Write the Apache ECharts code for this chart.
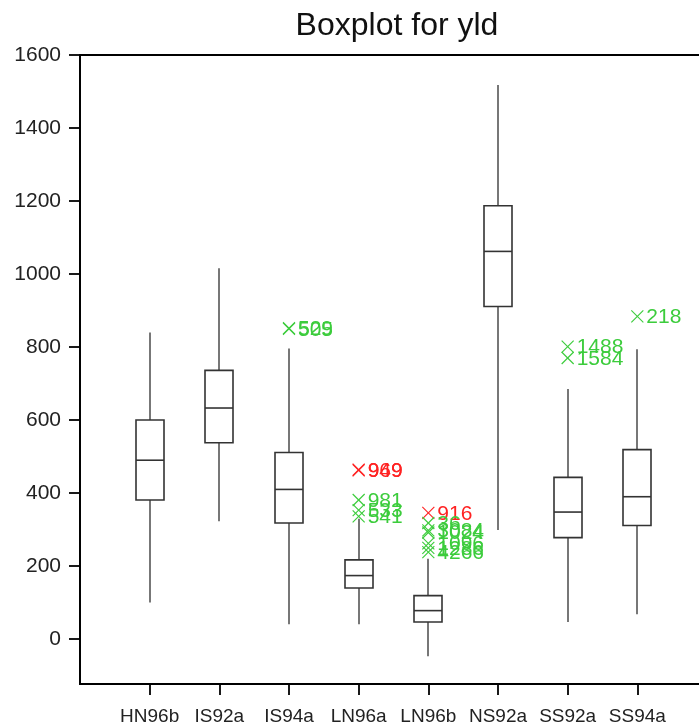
<!DOCTYPE html>
<html>
<head>
<meta charset="utf-8">
<script src="https://cdn.jsdelivr.net/npm/echarts@6/dist/echarts.min.js"></script>
<style>html,body{margin:0;padding:0;background:#fff;}#c{width:699px;height:727px;}</style>
</head>
<body>
<div id="c"></div>
<script>
var categories = ['HN96b','IS92a','IS94a','LN96a','LN96b','NS92a','SS92a','SS94a'];
var whiskerLow = [100, 323, 41, 41, -47, 299, 47, 68];
var q1 =        [381, 538, 318, 140, 47, 911, 278, 311];
var median =    [490, 633, 410, 174, 78, 1062, 348, 390];
var q3 =        [600, 736, 511, 217, 119, 1187, 443, 519];
var whiskerHigh=[840, 1016, 796, 330, 220, 1518, 685, 794];

var outlierCat = ['IS94a','IS94a','LN96a','LN96a','LN96a','LN96a','LN96a','LN96b','LN96b','LN96b','LN96b','LN96b','LN96b','LN96b','SS92a','SS92a','SS94a'];
var outlierVal = [852, 850, 464, 462, 381, 353, 336, 346, 318, 298, 292, 262, 250, 238, 801, 770, 884];
var outlierLab = ['529','505','969','949','981','533','541','916','36','3084','1024','1096','1286','4266','1488','1584','218'];
var outlierKind= ['g','g','r','r','g','g','g','r','g','g','g','g','g','g','g','g','g'];

var yTicks = [0,200,400,600,800,1000,1200,1400,1600];

var axisCats = [''].concat(categories).concat(['']);

var boxData = categories.map(function(c,i){
  return [i+1, whiskerLow[i], q1[i], median[i], q3[i], whiskerHigh[i]];
});
var outData = outlierCat.map(function(c,i){
  return [categories.indexOf(c)+1, outlierVal[i], outlierLab[i], outlierKind[i]];
});

var chart = echarts.init(document.getElementById('c'), null, {renderer:'canvas'});
var FONT = '"Liberation Sans", Arial, sans-serif';
chart.setOption({
  animation:false,
  backgroundColor:'#fff',
  title:{text:'Boxplot for yld', left:392, textAlign:'center', top:5,
    textStyle:{fontFamily:FONT, fontSize:32, fontWeight:'normal', color:'#111'}},
  grid:{left:80, top:55, width:627, bottom:43, show:true, borderColor:'#000', borderWidth:1.8, backgroundColor:'transparent', containLabel:false, outerBoundsMode:'none'},
  xAxis:{type:'category', data:axisCats, boundaryGap:false,
    axisLine:{onZero:false, lineStyle:{color:'#000', width:1.8}},
    axisTick:{length:11, lineStyle:{color:'#000', width:1.8}, interval:function(i){return i>0 && i<axisCats.length-1;}},
    axisLabel:{interval:0, margin:23, fontFamily:FONT, fontSize:19, color:'#222'},
    splitLine:{show:false}},
  yAxis:{type:'value', min:-123, max:1600,
    axisLine:{show:true, onZero:false, lineStyle:{color:'#000', width:1.8}},
    axisTick:{show:true, length:11, customValues:yTicks, lineStyle:{color:'#000', width:1.8}},
    axisLabel:{customValues:yTicks, margin:19, fontFamily:FONT, fontSize:21, color:'#222',
      formatter:function(v){return String(v);}},
    splitLine:{show:false}},
  series:[{
    type:'custom',
    data:boxData,
    clip:false,
    renderItem:function(params, api){
      var x = api.value(0);
      var pLow = api.coord([x, api.value(1)]);
      var pQ1 = api.coord([x, api.value(2)]);
      var pMed = api.coord([x, api.value(3)]);
      var pQ3 = api.coord([x, api.value(4)]);
      var pHigh = api.coord([x, api.value(5)]);
      var cx = Math.round(pMed[0]);
      var hw = 14;
      var wStyle = {stroke:'#555', lineWidth:1.6};
      var bStyle = {stroke:'#333', lineWidth:1.6, fill:'#fff'};
      return {type:'group', children:[
        {type:'line', shape:{x1:cx, y1:pHigh[1], x2:cx, y2:pQ3[1]}, style:wStyle},
        {type:'line', shape:{x1:cx, y1:pQ1[1], x2:cx, y2:pLow[1]}, style:wStyle},
        {type:'rect', shape:{x:cx-hw, y:pQ3[1], width:2*hw, height:pQ1[1]-pQ3[1]}, style:bStyle},
        {type:'line', shape:{x1:cx-hw, y1:pMed[1], x2:cx+hw, y2:pMed[1]}, style:{stroke:'#333', lineWidth:1.6}}
      ]};
    }
  },{
    type:'custom',
    data:outData,
    renderItem:function(params, api){
      var d = outData[params.dataIndex];
      var p = api.coord([d[0], d[1]]);
      var col = d[3]==='r' ? '#ff2222' : '#3ccc3c';
      var s = 6;
      return {type:'group', children:[
        {type:'line', shape:{x1:p[0]-s, y1:p[1]-s, x2:p[0]+s, y2:p[1]+s}, style:{stroke:col, lineWidth:1.1}},
        {type:'line', shape:{x1:p[0]-s, y1:p[1]+s, x2:p[0]+s, y2:p[1]-s}, style:{stroke:col, lineWidth:1.1}},
        {type:'text', x:p[0]+9, y:p[1]+1, style:{text:d[2], fill:col, font:'21px "Liberation Sans", Arial, sans-serif', textAlign:'left', textVerticalAlign:'middle'}}
      ]};
    }
  }]
});
</script>
</body>
</html>
